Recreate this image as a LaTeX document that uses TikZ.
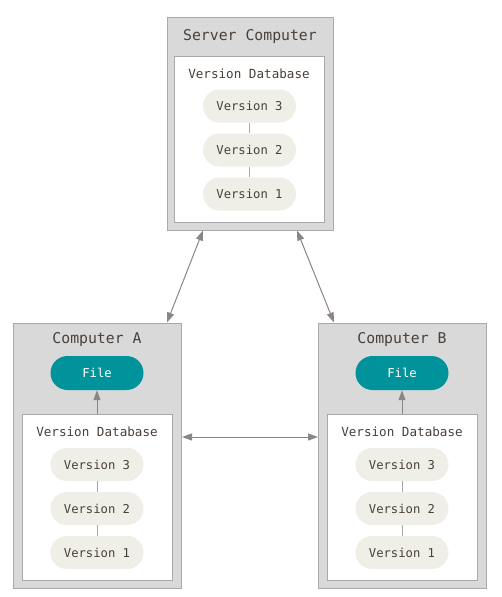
\documentclass[tikz,border=0pt]{standalone}
\usepackage{fontspec}
\setmonofont{DejaVu Sans Mono}
\usetikzlibrary{arrows.meta}
\definecolor{boxgray}{HTML}{D9D9D9}
\definecolor{boxline}{HTML}{A9A9A9}
\definecolor{pill}{HTML}{EFEEE7}
\definecolor{teal}{HTML}{00939B}
\definecolor{txt}{HTML}{4A403A}
\definecolor{arr}{HTML}{8C8682}
\tikzset{
  outerbox/.style={draw=boxline, fill=boxgray, line width=1pt},
  innerbox/.style={draw=boxline, fill=white, line width=1pt},
  title/.style={font=\ttfamily\fontsize{14.8}{16}\selectfont, text=txt},
  dbtitle/.style={font=\ttfamily\fontsize{12.6}{14}\selectfont, text=txt},
  verpill/.style={fill=pill, rounded corners=16.5pt, minimum width=93pt, minimum height=33pt, inner sep=0pt,
    font=\ttfamily\fontsize{12.2}{14}\selectfont, text=txt},
  filepill/.style={fill=teal, rounded corners=17pt, minimum width=93pt, minimum height=34pt, inner sep=0pt,
    font=\ttfamily\fontsize{12.2}{14}\selectfont, text=white},
  link/.style={draw=boxline, line width=1pt},
  sync/.style={draw=arr, line width=1pt, {Triangle[length=10pt,width=7pt]}-{Triangle[length=10pt,width=7pt]}},
  one/.style={draw=arr, line width=1pt, -{Triangle[length=10pt,width=7pt]}}
}
\begin{document}
\begin{tikzpicture}[x=1pt,y=-1pt]
\useasboundingbox (0,0) rectangle (501,597);
\fill[white] (0,0) rectangle (501,597);
% Server
\node[outerbox, minimum width=166pt, minimum height=213pt, inner sep=0pt] (srv) at (250,123.5) {};
\node[innerbox, minimum width=150pt, minimum height=166pt, inner sep=0pt] (srvdb) at (249,139.5) {};
\node[title] (srvt) at (250,37) {Server Computer};
\node[dbtitle] (srvdbt) at (249,74) {Version Database};
\node[verpill] (s3) at (249.5,106) {Version 3};
\node[verpill] (s2) at (249.5,150) {Version 2};
\node[verpill] (s1) at (249.5,194) {Version 1};
\draw[link] (s3) -- (s2);
\draw[link] (s2) -- (s1);
% Computer A
\node[outerbox, minimum width=168pt, minimum height=265pt, inner sep=0pt] (ca) at (97,455.5) {};
\node[innerbox, minimum width=150pt, minimum height=166pt, inner sep=0pt] (cadb) at (97,497) {};
\node[title] (cat) at (97,340) {Computer A};
\node[filepill] (caf) at (97,373) {File};
\node[dbtitle] (cadbt) at (97,432) {Version Database};
\node[verpill] (a3) at (97,464.5) {Version 3};
\node[verpill] (a2) at (97,508.5) {Version 2};
\node[verpill] (a1) at (97,552.5) {Version 1};
\draw[link] (a3) -- (a2);
\draw[link] (a2) -- (a1);
\draw[one] (cadb.north) -- (caf.south);
% Computer B
\node[outerbox, minimum width=168pt, minimum height=265pt, inner sep=0pt] (cb) at (402,455.5) {};
\node[innerbox, minimum width=150pt, minimum height=166pt, inner sep=0pt] (cbdb) at (402,497) {};
\node[title] (cbt) at (402,340) {Computer B};
\node[filepill] (cbf) at (402,373) {File};
\node[dbtitle] (cbdbt) at (402,432) {Version Database};
\node[verpill] (b3) at (402,464.5) {Version 3};
\node[verpill] (b2) at (402,508.5) {Version 2};
\node[verpill] (b1) at (402,552.5) {Version 1};
\draw[link] (b3) -- (b2);
\draw[link] (b2) -- (b1);
\draw[one] (cbdb.north) -- (cbf.south);
% sync arrows
\coordinate (sa) at (203,230.5);
\coordinate (sb) at (297,230.5);
\coordinate (ta) at (167,322.5);
\coordinate (tb) at (334,322.5);
\draw[sync] (sa) -- (ta);
\draw[sync] (sb) -- (tb);
\coordinate (ha) at (182,437);
\coordinate (hb) at (318,437);
\draw[sync] (ha) -- (hb);
\end{tikzpicture}
\end{document}
